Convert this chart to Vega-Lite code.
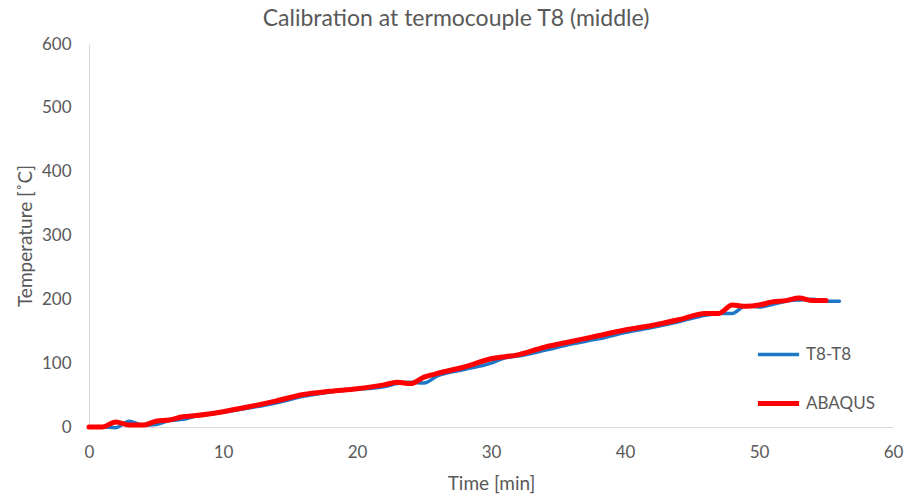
{
  "$schema": "https://vega.github.io/schema/vega-lite/v6.json",
  "autosize": "none",
  "width": 804,
  "height": 383,
  "padding": {"left": 89, "top": 44, "right": 19, "bottom": 71},
  "background": "white",
  "config": {
    "font": "Lato",
    "view": {"stroke": null},
    "axis": {"labelColor": "#595959", "titleColor": "#595959", "labelFontSize": 17, "titleFontSize": 19, "titleFontWeight": "normal", "domainColor": "#d9d9d9", "ticks": false, "grid": false}
  },
  "title": {"text": "Calibration at termocouple T8 (middle)", "fontSize": 23, "fontWeight": "normal", "color": "#595959", "anchor": "middle", "dx": -35, "offset": 4},
  "data": {"values": [
    {"t": 0, "v": 0, "s": "T8-T8"}, {"t": 1, "v": 0, "s": "T8-T8"}, {"t": 2, "v": -1, "s": "T8-T8"}, {"t": 3, "v": 9, "s": "T8-T8"}, {"t": 4, "v": 3, "s": "T8-T8"}, {"t": 5, "v": 4, "s": "T8-T8"}, {"t": 6, "v": 10, "s": "T8-T8"}, {"t": 7, "v": 12, "s": "T8-T8"}, {"t": 8, "v": 17, "s": "T8-T8"}, {"t": 10, "v": 23, "s": "T8-T8"}, {"t": 12, "v": 30, "s": "T8-T8"}, {"t": 14, "v": 38, "s": "T8-T8"}, {"t": 16, "v": 48, "s": "T8-T8"}, {"t": 18, "v": 55, "s": "T8-T8"}, {"t": 20, "v": 59, "s": "T8-T8"}, {"t": 22, "v": 63, "s": "T8-T8"}, {"t": 23, "v": 68, "s": "T8-T8"}, {"t": 24, "v": 70, "s": "T8-T8"}, {"t": 25, "v": 69, "s": "T8-T8"}, {"t": 26, "v": 80, "s": "T8-T8"}, {"t": 28, "v": 90, "s": "T8-T8"}, {"t": 30, "v": 100, "s": "T8-T8"}, {"t": 31, "v": 108, "s": "T8-T8"}, {"t": 32, "v": 111, "s": "T8-T8"}, {"t": 34, "v": 120, "s": "T8-T8"}, {"t": 36, "v": 130, "s": "T8-T8"}, {"t": 38, "v": 138, "s": "T8-T8"}, {"t": 40, "v": 148, "s": "T8-T8"}, {"t": 42, "v": 156, "s": "T8-T8"}, {"t": 44, "v": 165, "s": "T8-T8"}, {"t": 46, "v": 175, "s": "T8-T8"}, {"t": 47, "v": 178, "s": "T8-T8"}, {"t": 48, "v": 178, "s": "T8-T8"}, {"t": 49, "v": 190, "s": "T8-T8"}, {"t": 50, "v": 188, "s": "T8-T8"}, {"t": 51, "v": 192, "s": "T8-T8"}, {"t": 52, "v": 197, "s": "T8-T8"}, {"t": 53, "v": 199, "s": "T8-T8"}, {"t": 54, "v": 200, "s": "T8-T8"}, {"t": 55, "v": 197, "s": "T8-T8"}, {"t": 56, "v": 197, "s": "T8-T8"},
    {"t": 0, "v": 0, "s": "ABAQUS"}, {"t": 1, "v": 0, "s": "ABAQUS"}, {"t": 2, "v": 8, "s": "ABAQUS"}, {"t": 3, "v": 3, "s": "ABAQUS"}, {"t": 4, "v": 3, "s": "ABAQUS"}, {"t": 5, "v": 9, "s": "ABAQUS"}, {"t": 6, "v": 11, "s": "ABAQUS"}, {"t": 7, "v": 16, "s": "ABAQUS"}, {"t": 8, "v": 18, "s": "ABAQUS"}, {"t": 10, "v": 24, "s": "ABAQUS"}, {"t": 12, "v": 32, "s": "ABAQUS"}, {"t": 14, "v": 41, "s": "ABAQUS"}, {"t": 16, "v": 51, "s": "ABAQUS"}, {"t": 18, "v": 56, "s": "ABAQUS"}, {"t": 20, "v": 60, "s": "ABAQUS"}, {"t": 22, "v": 66, "s": "ABAQUS"}, {"t": 23, "v": 70, "s": "ABAQUS"}, {"t": 24, "v": 68, "s": "ABAQUS"}, {"t": 25, "v": 78, "s": "ABAQUS"}, {"t": 26, "v": 84, "s": "ABAQUS"}, {"t": 28, "v": 94, "s": "ABAQUS"}, {"t": 30, "v": 107, "s": "ABAQUS"}, {"t": 32, "v": 113, "s": "ABAQUS"}, {"t": 34, "v": 125, "s": "ABAQUS"}, {"t": 36, "v": 134, "s": "ABAQUS"}, {"t": 38, "v": 143, "s": "ABAQUS"}, {"t": 40, "v": 152, "s": "ABAQUS"}, {"t": 42, "v": 159, "s": "ABAQUS"}, {"t": 44, "v": 168, "s": "ABAQUS"}, {"t": 46, "v": 178, "s": "ABAQUS"}, {"t": 47, "v": 178, "s": "ABAQUS"}, {"t": 48, "v": 191, "s": "ABAQUS"}, {"t": 49, "v": 189, "s": "ABAQUS"}, {"t": 50, "v": 191, "s": "ABAQUS"}, {"t": 51, "v": 196, "s": "ABAQUS"}, {"t": 52, "v": 198, "s": "ABAQUS"}, {"t": 53, "v": 202, "s": "ABAQUS"}, {"t": 54, "v": 198, "s": "ABAQUS"}, {"t": 55, "v": 198, "s": "ABAQUS"}
  ]},
  "mark": {"type": "line", "interpolate": "monotone", "strokeCap": "round", "strokeJoin": "round"},
  "encoding": {
    "x": {"field": "t", "type": "quantitative", "title": "Time [min]", "scale": {"domain": [0, 60], "nice": false}, "axis": {"values": [0, 10, 20, 30, 40, 50, 60], "labelFlush": false, "labelPadding": 17, "titlePadding": 14}},
    "y": {"field": "v", "type": "quantitative", "title": "Temperature [˚C]", "scale": {"domain": [0, 600], "nice": false}, "axis": {"values": [0, 100, 200, 300, 400, 500, 600], "labelFlush": false, "labelPadding": 18, "titlePadding": 6}},
    "color": {"field": "s", "type": "nominal", "sort": ["T8-T8", "ABAQUS"], "scale": {"domain": ["T8-T8", "ABAQUS"], "range": ["#1f77c8", "#ff0000"]},
      "legend": {"title": null, "orient": "none", "legendX": 666, "legendY": 288, "symbolType": "stroke", "symbolSize": 1700, "symbolStrokeWidth": 4, "labelFontSize": 17, "labelColor": "#595959", "rowPadding": 17, "labelOffset": 4}},
    "strokeWidth": {"field": "s", "type": "nominal", "scale": {"domain": ["T8-T8", "ABAQUS"], "range": [3.5, 5]}, "legend": null}
  }
}
